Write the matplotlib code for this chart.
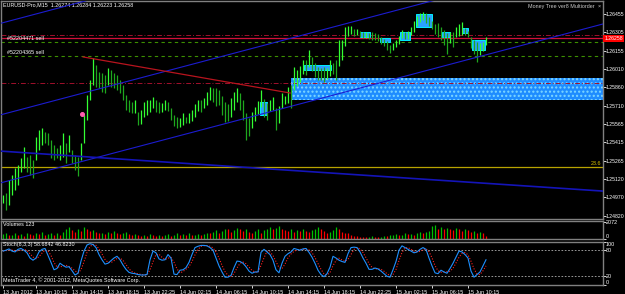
import matplotlib
matplotlib.use("Agg")
import matplotlib.pyplot as plt
from matplotlib.patches import Rectangle
import numpy as np
import pandas as pd

# M15 bars, one entry per bar
highs = [
    1.24989, 1.25005, 1.25110, 1.25151, 1.25208, 1.25232, 1.25289, 1.25378, 1.25297, 1.25313,
    1.25272, 1.25459, 1.25515, 1.25531, 1.25499, 1.25491, 1.25434, 1.25394, 1.25370, 1.25394,
    1.25491, 1.25410, 1.25475, 1.25353, 1.25313, 1.25297, 1.25410, 1.25637, 1.25799, 1.25920,
    1.26099, 1.26042, 1.25985, 1.25977, 1.25961, 1.26018, 1.26001, 1.25977, 1.25961, 1.25920,
    1.25880, 1.25799, 1.25758, 1.25742, 1.25758, 1.25661, 1.25677, 1.25742, 1.25758, 1.25758,
    1.25783, 1.25758, 1.25742, 1.25734, 1.25758, 1.25742, 1.25694, 1.25637, 1.25621, 1.25612,
    1.25653, 1.25621, 1.25653, 1.25677, 1.25726, 1.25758, 1.25758, 1.25775, 1.25823, 1.25864,
    1.25856, 1.25856, 1.25839, 1.25791, 1.25742, 1.25726, 1.25775, 1.25823, 1.25856, 1.25815,
    1.25758, 1.25653, 1.25612, 1.25661, 1.25702, 1.25750, 1.25839, 1.25767, 1.25734, 1.25758,
    1.25783, 1.25694, 1.25710, 1.25815, 1.25791, 1.25864, 1.25880, 1.26026, 1.26001, 1.26034,
    1.26082, 1.26082, 1.26163, 1.26107, 1.26058, 1.26026, 1.26018, 1.26026, 1.26018, 1.26082,
    1.26058, 1.26082, 1.26244, 1.26244, 1.26350, 1.26358, 1.26358, 1.26333, 1.26333, 1.26317,
    1.26309, 1.26309, 1.26301, 1.26309, 1.26301, 1.26293, 1.26269, 1.26253, 1.26236, 1.26204,
    1.26220, 1.26244, 1.26277, 1.26325, 1.26309, 1.26317, 1.26350, 1.26398, 1.26439, 1.26463,
    1.26471, 1.26463, 1.26431, 1.26398, 1.26374, 1.26382, 1.26350, 1.26325, 1.26301, 1.26309,
    1.26309, 1.26350, 1.26374, 1.26390, 1.26342, 1.26317, 1.26269, 1.26244, 1.26228, 1.26220,
    1.26228, 1.26269,
]
lows = [
    1.24924, 1.24867, 1.24908, 1.24989, 1.25029, 1.25070, 1.25175, 1.25208, 1.25175, 1.25151,
    1.25127, 1.25272, 1.25353, 1.25394, 1.25410, 1.25394, 1.25289, 1.25272, 1.25289, 1.25272,
    1.25297, 1.25248, 1.25337, 1.25248, 1.25191, 1.25143, 1.25272, 1.25410, 1.25596, 1.25758,
    1.25880, 1.25864, 1.25856, 1.25823, 1.25815, 1.25880, 1.25864, 1.25856, 1.25839, 1.25815,
    1.25758, 1.25677, 1.25661, 1.25653, 1.25653, 1.25556, 1.25564, 1.25621, 1.25637, 1.25661,
    1.25694, 1.25661, 1.25653, 1.25661, 1.25677, 1.25669, 1.25596, 1.25548, 1.25531, 1.25540,
    1.25556, 1.25572, 1.25572, 1.25588, 1.25621, 1.25669, 1.25661, 1.25694, 1.25718, 1.25758,
    1.25742, 1.25710, 1.25718, 1.25637, 1.25580, 1.25588, 1.25621, 1.25677, 1.25742, 1.25677,
    1.25596, 1.25434, 1.25467, 1.25531, 1.25588, 1.25645, 1.25702, 1.25621, 1.25596, 1.25669,
    1.25677, 1.25515, 1.25572, 1.25694, 1.25726, 1.25734, 1.25694, 1.25839, 1.25872, 1.25904,
    1.25969, 1.25961, 1.26026, 1.25993, 1.25945, 1.25920, 1.25920, 1.25904, 1.25929, 1.25953,
    1.25969, 1.25920, 1.26034, 1.26082, 1.26196, 1.26277, 1.26293, 1.26277, 1.26285, 1.26269,
    1.26261, 1.26261, 1.26253, 1.26244, 1.26244, 1.26236, 1.26212, 1.26196, 1.26163, 1.26139,
    1.26163, 1.26188, 1.26212, 1.26261, 1.26253, 1.26253, 1.26285, 1.26309, 1.26358, 1.26390,
    1.26406, 1.26382, 1.26358, 1.26333, 1.26293, 1.26269, 1.26244, 1.26204, 1.26131, 1.26220,
    1.26188, 1.26269, 1.26277, 1.26285, 1.26285, 1.26269, 1.26180, 1.26131, 1.26066, 1.26123,
    1.26155, 1.26204,
]
volumes = [
    600, 700, 450, 550, 800, 500, 650, 400, 700, 600,
    500, 750, 600, 850, 550, 600, 700, 450, 800, 550,
    900, 1200, 1450, 1100, 900, 1300, 1000, 1500, 1200, 1000,
    1100, 900, 700, 800, 600, 900, 700, 950, 800, 650,
    700, 850, 600, 500, 650, 450, 400, 500, 350, 600,
    500, 400, 550, 350, 450, 600, 400, 500, 700, 550,
    600, 500, 700, 450, 550, 650, 500, 600, 800, 700,
    900, 1100, 800, 1000, 1300, 1200, 900, 1100, 1400, 1200,
    1000, 1300, 900, 700, 1000, 1200, 800, 1100, 1300, 1500,
    1200, 1400, 1600, 1300, 1100, 1000, 1200, 900, 1100, 1000,
    1200, 1000, 900, 1100, 1300, 1500, 1200, 1000, 800, 900,
    1100, 1500, 1200, 900, 800, 700, 500, 400, 350, 300,
    300, 250, 300, 350, 300, 250, 300, 400, 350, 450,
    500, 600, 450, 550, 700, 600, 650, 500, 800, 900,
    700, 900, 1000, 1600, 1700, 1300, 1500, 1200, 1400, 1300,
    1100, 1400, 1200, 1000, 1300, 1100, 900, 1000, 800, 900,
    700, 400,
]
stoch_main = [
    78, 80, 83, 78, 76, 82, 84, 80, 74, 62,
    57, 62, 76, 82, 84, 68, 52, 35, 38, 50,
    45, 41, 42, 33, 23, 27, 55, 78, 92, 95,
    93, 86, 70, 58, 48, 50, 56, 62, 66, 58,
    46, 36, 29, 27, 26, 24, 23, 23, 24, 58,
    78, 74, 60, 57, 58, 70, 62, 25, 24, 34,
    35, 40, 52, 70, 86, 89, 91, 91, 90, 86,
    80, 62, 44, 30, 18, 18, 22, 40, 55, 54,
    50, 42, 32, 27, 30, 30, 75, 82, 76, 70,
    57, 35, 28, 50, 66, 72, 76, 84, 82, 80,
    83, 84, 75, 64, 50, 34, 24, 19, 26, 41,
    66, 62, 57, 54, 52, 72, 86, 87, 86, 76,
    62, 50, 36, 36, 39, 37, 32, 26, 20, 18,
    35, 54, 80, 90, 86, 82, 78, 74, 76, 82,
    86, 82, 62, 44, 28, 26, 34, 30, 27, 38,
    50, 64, 78, 76, 70, 62, 32, 18, 24, 30,
    44, 58,
]

time_ticks = [0, 11, 23, 35, 47, 59, 71, 83, 95, 107, 119, 131, 143, 155]
time_labels = ["13 Jun 2012", "13 Jun 10:15", "13 Jun 14:15", "13 Jun 18:15", "13 Jun 22:25",
               "14 Jun 02:15", "14 Jun 06:15", "14 Jun 10:15", "14 Jun 14:15", "14 Jun 18:15",
               "14 Jun 22:25", "15 Jun 02:15", "15 Jun 06:15", "15 Jun 10:15"]
price_ticks = [1.26455, 1.26305, 1.26155, 1.26010, 1.25860, 1.25710,
               1.25565, 1.25415, 1.25265, 1.25120, 1.24970, 1.24820]

last_price = 1.26258
order_open = 1.26285
order_stops = [1.26228, 1.26115]
pivot_level = 1.25896
fib_level = 1.25216

# chart objects: [start bar, end bar] and prices at those ends
line_x = [-1, 200]
channel_a = [1.25086, 1.26374]
channel_b = [1.25637, 1.26926]
channel_c = [1.26378, 1.27668]
support_d = [1.25345, 1.25021]
red_trend_x = [26.7, 95.7]
red_trend = [1.26107, 1.25815]

zone_x = [96, 201]
zone_prices = [1.25758, 1.25937]

box_x0 = [85.7, 100.3, 119.0, 125.7, 132.3, 137.7, 146.3, 153.0, 156.3]
box_x1 = [88.0, 109.3, 122.3, 129.0, 135.7, 143.0, 149.0, 155.0, 160.7]
box_lo = [1.25637, 1.26001, 1.26269, 1.26228, 1.26244, 1.26350, 1.26269, 1.26301, 1.26163]
box_hi = [1.25742, 1.26042, 1.26309, 1.26261, 1.26309, 1.26455, 1.26309, 1.26342, 1.26244]

entry_bar = 26.3
entry_price = 1.25645

plt.rcParams["font.family"] = ["Liberation Sans", "DejaVu Sans"]
fs = 3.9
frame = "#808080"

fig = plt.figure(figsize=(6.25, 2.94), dpi=100, facecolor="black")
ax = fig.add_axes([1 / 625, 1 - 219 / 294, 602 / 625, 218 / 294], facecolor="black")
ax_vol = fig.add_axes([1 / 625, 1 - 239 / 294, 602 / 625, 18 / 294], facecolor="black")
ax_st = fig.add_axes([1 / 625, 1 - 285 / 294, 602 / 625, 43.5 / 294], facecolor="black")

bars = np.arange(len(highs))
h = np.array(highs)
l = np.array(lows)
mid = (h + l) / 2
up = np.r_[True, mid[1:] >= mid[:-1]]

for a in (ax, ax_vol, ax_st):
    a.set_xlim(-0.667, 200)
    for s in a.spines.values():
        s.set_color(frame)
        s.set_linewidth(1.0)
    a.yaxis.tick_right()
    a.tick_params(axis="y", colors="white", labelsize=fs, length=1.8, width=0.6, pad=0.4)
    a.tick_params(axis="x", colors="white", labelsize=fs, length=2.5, width=0.6, pad=1)

# main price pane
ax.set_ylim(1.24795, 1.26560)
ax.set_xticks([])
ax.set_yticks(price_ticks)
ax.set_yticklabels([f"{p:.5f}" for p in price_ticks])
ax.tick_params(axis="y", labelsize=3.7)

ax.add_patch(Rectangle((zone_x[0], zone_prices[0]), zone_x[1] - zone_x[0], zone_prices[1] - zone_prices[0],
                       facecolor="#1e8cff", edgecolor="#7fd8ff", hatch="....", lw=0, zorder=1))
for x0, x1, lo, hi in zip(box_x0, box_x1, box_lo, box_hi):
    ax.add_patch(Rectangle((x0, lo), x1 - x0, hi - lo, facecolor="#2aa0ff",
                           edgecolor="#00f0ff", lw=0.7, zorder=3))

ax.axhline(order_open, color="#a0102c", lw=0.7, ls=(0, (5, 2, 1, 2)), zorder=2)
ax.axhline(last_price, color="#d0103a", lw=0.9, zorder=2)
for p in order_stops:
    ax.axhline(p, color="#3c9000", lw=0.8, ls=(0, (3, 3)), zorder=2)
ax.axhline(pivot_level, color="#a0102c", lw=0.7, ls=(0, (5, 2, 1, 2)), zorder=2)
ax.axhline(fib_level, color="#b8a400", lw=0.9, zorder=2)

ax.plot(line_x, channel_a, color="#1c1cd0", lw=0.8, zorder=4)
ax.plot(line_x, channel_b, color="#1c1cd0", lw=0.8, zorder=4)
ax.plot(line_x, channel_c, color="#1c1cd0", lw=0.8, zorder=4)
ax.plot(line_x, support_d, color="#1414b8", lw=1.2, zorder=4)
ax.plot(red_trend_x, red_trend, color="#b8141e", lw=0.9, zorder=4)

ax.vlines(bars[up], l[up], h[up], colors="#33ff33", lw=0.9, zorder=3)
ax.vlines(bars[~up], l[~up], h[~up], colors="#1ea81e", lw=0.9, zorder=3)
ax.plot([entry_bar], [entry_price], "o", ms=2.6, color="#ff5cb0", zorder=5)

ax.text(0.0033, 0.982, "EURUSD-Pro,M15  1.26274 1.26284 1.26223 1.26258", transform=ax.transAxes,
        color="white", fontsize=fs, va="center", ha="left")
ax.text(0.8754, 0.977, "Money Tree ver8 Multiorder", transform=ax.transAxes,
        color="#c8c8c8", fontsize=fs, va="center", ha="left")
ax.text(0.9935, 0.977, "\u00d7", transform=ax.transAxes, color="#c8c8c8", fontsize=fs,
        va="center", ha="center")
ax.text(1.3, 1.26253, "#52204471 sell", color="white", fontsize=fs, va="center", ha="left", zorder=6)
ax.text(1.3, 1.26143, "#52204365 sell", color="white", fontsize=fs, va="center", ha="left", zorder=6)
ax.text(199.3, 1.25248, "23.6", color="#d4c000", fontsize=fs, va="center", ha="right")
ax.text(1.002, last_price, f"{last_price:.5f}", transform=ax.get_yaxis_transform(), color="white",
        fontsize=3.7, va="center", ha="left",
        bbox=dict(boxstyle="square,pad=0.25", fc="#ff0000", ec="none"))

# volumes pane
vol = np.array(volumes)
vol_up = np.r_[True, vol[1:] > vol[:-1]]
ax_vol.vlines(bars[vol_up], 0, vol[vol_up], colors="#00c000", lw=0.9)
ax_vol.vlines(bars[~vol_up], 0, vol[~vol_up], colors="#ff0000", lw=0.9)
ax_vol.set_ylim(0, 2250)
ax_vol.set_xticks([])
ax_vol.set_yticks([2072, 0])
ax_vol.set_yticklabels(["2072", "0"])
ax_vol.get_yticklabels()[1].set_va("bottom")
ax_vol.text(0.0033, 0.78, "Volumes 123", transform=ax_vol.transAxes, color="white",
            fontsize=fs, va="center", ha="left")

# stochastic pane
k = pd.Series(stoch_main, dtype=float)
d = k.rolling(3, min_periods=1).mean()
ax_st.set_ylim(0, 100)
for lvl in (80, 20):
    ax_st.axhline(lvl, color="#b0b0b0", lw=0.6, ls=(0, (2, 2)))
ax_st.plot(bars, d, color="#ff2020", lw=0.8, ls=(0, (1, 1.5)))
ax_st.plot(bars, k, color="#1e90ff", lw=0.8)
ax_st.set_yticks([100, 80, 20, 0])
ax_st.set_yticklabels(["100", "80", "20", "0"])
ax_st.get_yticklabels()[0].set_va("top")
ax_st.get_yticklabels()[3].set_va("bottom")
ax_st.set_xticks(time_ticks)
ax_st.set_xticklabels(time_labels, ha="left")
ax_st.text(0.0033, 0.92, f"Stoch(8,3,3) {58.6842:.4f} {46.8230:.4f}", transform=ax_st.transAxes,
           color="white", fontsize=fs, va="center", ha="left")
ax_st.text(0.0033, 0.10, "MetaTrader 4, \u00a9 2001-2012, MetaQuotes Software Corp.",
           transform=ax_st.transAxes, color="white", fontsize=fs, va="center", ha="left")

fig.savefig("out.png", dpi=100, facecolor="black")
